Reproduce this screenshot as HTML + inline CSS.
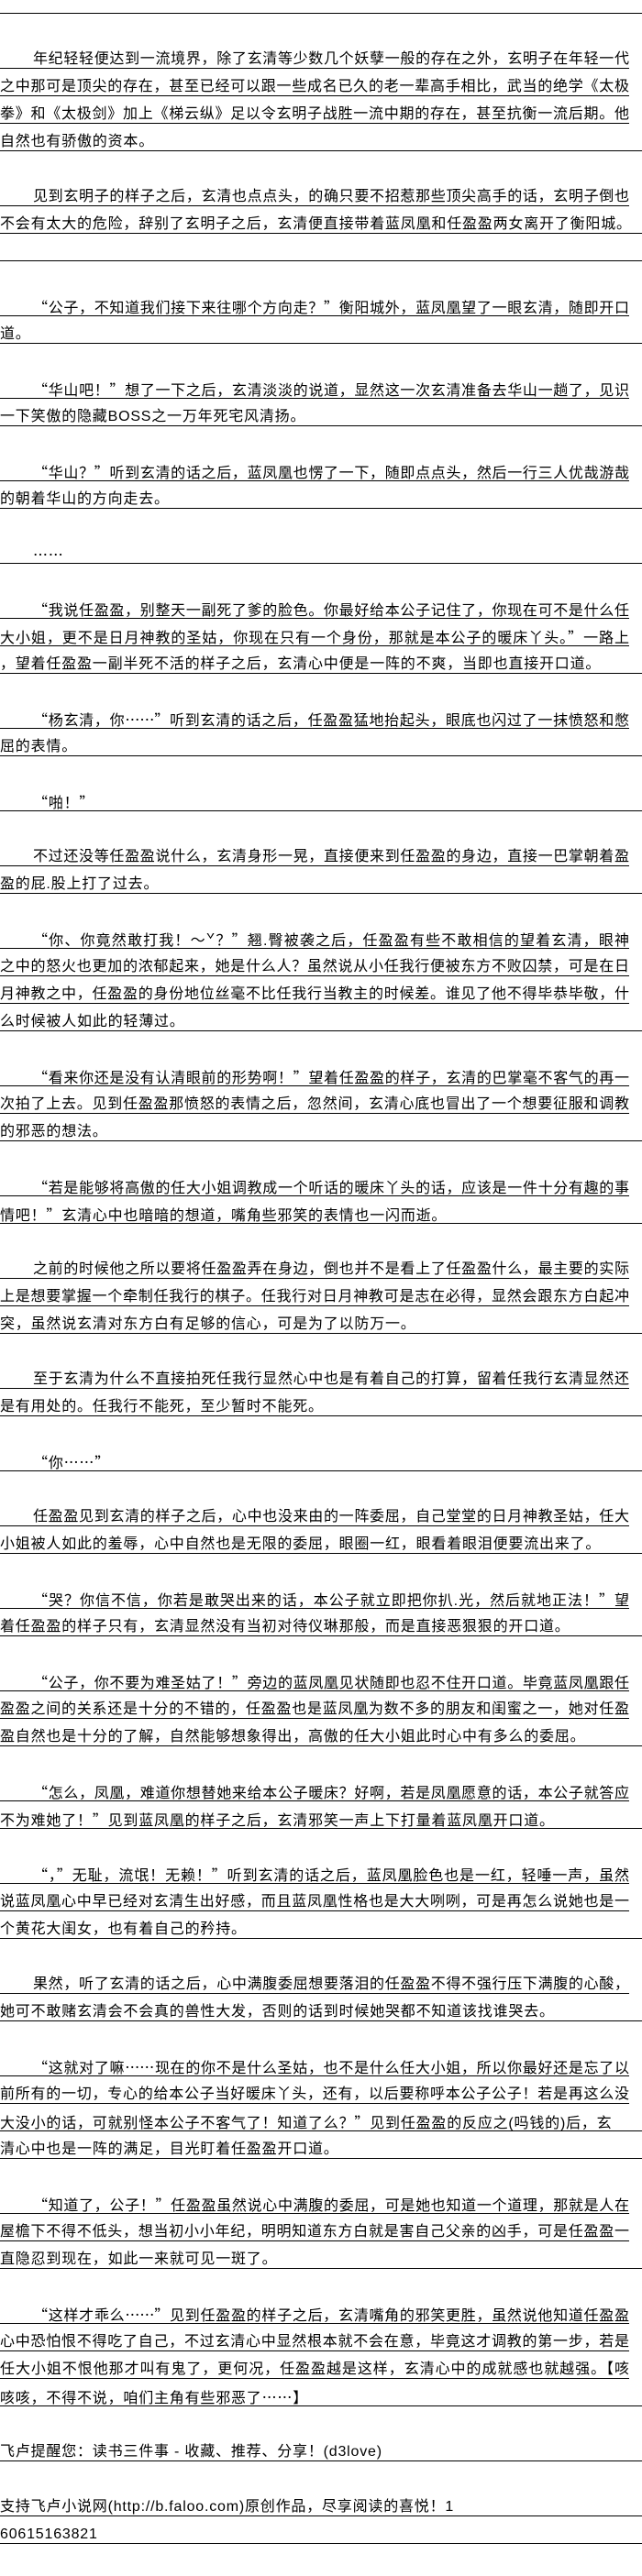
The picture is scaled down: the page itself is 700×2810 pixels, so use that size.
<!DOCTYPE html>
<html><head><meta charset="utf-8">
<style>
html,body{margin:0;padding:0;background:#fff;}
body{width:700px;height:2810px;overflow:hidden;}
#w{margin-top:-15px;}
.r{height:19px;padding-top:10px;line-height:19px;border-bottom:1px solid transparent;font-family:"Liberation Sans","Noto Sans CJK SC",sans-serif;font-size:16px;color:#000;white-space:nowrap;overflow:hidden;letter-spacing:0.8px;width:700px;box-sizing:content-box;}
.q{font-family:"Noto Sans CJK SC",sans-serif;}
.u{border-bottom-color:#000;}
.i{padding-left:36px;width:664px;}
.j{width:686px;text-align:justify;text-align-last:justify;letter-spacing:0;}
.i.j{width:650px;}
</style></head><body><div id="w">
<div class="r u"></div>
<div class="r"></div>
<div class="r u i j">年纪轻轻便达到一流境界，除了玄清等少数几个妖孽一般的存在之外，玄明子在年轻一代</div>
<div class="r u j">之中那可是顶尖的存在，甚至已经可以跟一些成名已久的老一辈高手相比，武当的绝学《太极</div>
<div class="r u j">拳》和《太极剑》加上《梯云纵》足以令玄明子战胜一流中期的存在，甚至抗衡一流后期。他</div>
<div class="r u">自然也有骄傲的资本。</div>
<div class="r"></div>
<div class="r u i j">见到玄明子的样子之后，玄清也点点头，的确只要不招惹那些顶尖高手的话，玄明子倒也</div>
<div class="r u">不会有太大的危险，辞别了玄明子之后，玄清便直接带着蓝凤凰和任盈盈两女离开了衡阳城。</div>
<div class="r u"></div>
<div class="r"></div>
<div class="r u i j"><span class="q">“</span>公子，不知道我们接下来往哪个方向走？<span class="q">”</span>衡阳城外，蓝凤凰望了一眼玄清，随即开口</div>
<div class="r u">道。</div>
<div class="r"></div>
<div class="r u i j"><span class="q">“</span>华山吧！<span class="q">”</span>想了一下之后，玄清淡淡的说道，显然这一次玄清准备去华山一趟了，见识</div>
<div class="r u">一下笑傲的隐藏BOSS之一万年死宅风清扬。</div>
<div class="r"></div>
<div class="r u i j"><span class="q">“</span>华山？<span class="q">”</span>听到玄清的话之后，蓝凤凰也愣了一下，随即点点头，然后一行三人优哉游哉</div>
<div class="r u">的朝着华山的方向走去。</div>
<div class="r"></div>
<div class="r u i"><span class="q">……</span></div>
<div class="r"></div>
<div class="r u i j"><span class="q">“</span>我说任盈盈，别整天一副死了爹的脸色。你最好给本公子记住了，你现在可不是什么任</div>
<div class="r u j">大小姐，更不是日月神教的圣姑，你现在只有一个身份，那就是本公子的暖床丫头。<span class="q">”</span>一路上</div>
<div class="r u">，望着任盈盈一副半死不活的样子之后，玄清心中便是一阵的不爽，当即也直接开口道。</div>
<div class="r"></div>
<div class="r u i j"><span class="q">“</span>杨玄清，你<span class="q">……”</span>听到玄清的话之后，任盈盈猛地抬起头，眼底也闪过了一抹愤怒和憋</div>
<div class="r u">屈的表情。</div>
<div class="r"></div>
<div class="r u i"><span class="q">“</span>啪！<span class="q">”</span></div>
<div class="r"></div>
<div class="r u i j">不过还没等任盈盈说什么，玄清身形一晃，直接便来到任盈盈的身边，直接一巴掌朝着盈</div>
<div class="r u">盈的屁.股上打了过去。</div>
<div class="r"></div>
<div class="r u i j"><span class="q">“</span>你、你竟然敢打我！<span class="q">～ˇ</span>？<span class="q">”</span>翘.臀被袭之后，任盈盈有些不敢相信的望着玄清，眼神</div>
<div class="r u j">之中的怒火也更加的浓郁起来，她是什么人？虽然说从小任我行便被东方不败囚禁，可是在日</div>
<div class="r u j">月神教之中，任盈盈的身份地位丝毫不比任我行当教主的时候差。谁见了他不得毕恭毕敬，什</div>
<div class="r u">么时候被人如此的轻薄过。</div>
<div class="r"></div>
<div class="r u i j"><span class="q">“</span>看来你还是没有认清眼前的形势啊！<span class="q">”</span>望着任盈盈的样子，玄清的巴掌毫不客气的再一</div>
<div class="r u j">次拍了上去。见到任盈盈那愤怒的表情之后，忽然间，玄清心底也冒出了一个想要征服和调教</div>
<div class="r u">的邪恶的想法。</div>
<div class="r"></div>
<div class="r u i j"><span class="q">“</span>若是能够将高傲的任大小姐调教成一个听话的暖床丫头的话，应该是一件十分有趣的事</div>
<div class="r u">情吧！<span class="q">”</span>玄清心中也暗暗的想道，嘴角些邪笑的表情也一闪而逝。</div>
<div class="r"></div>
<div class="r u i j">之前的时候他之所以要将任盈盈弄在身边，倒也并不是看上了任盈盈什么，最主要的实际</div>
<div class="r u j">上是想要掌握一个牵制任我行的棋子。任我行对日月神教可是志在必得，显然会跟东方白起冲</div>
<div class="r u">突，虽然说玄清对东方白有足够的信心，可是为了以防万一。</div>
<div class="r"></div>
<div class="r u i j">至于玄清为什么不直接拍死任我行显然心中也是有着自己的打算，留着任我行玄清显然还</div>
<div class="r u">是有用处的。任我行不能死，至少暂时不能死。</div>
<div class="r"></div>
<div class="r u i"><span class="q">“</span>你<span class="q">……”</span></div>
<div class="r"></div>
<div class="r u i j">任盈盈见到玄清的样子之后，心中也没来由的一阵委屈，自己堂堂的日月神教圣姑，任大</div>
<div class="r u">小姐被人如此的羞辱，心中自然也是无限的委屈，眼圈一红，眼看着眼泪便要流出来了。</div>
<div class="r"></div>
<div class="r u i j"><span class="q">“</span>哭？你信不信，你若是敢哭出来的话，本公子就立即把你扒.光，然后就地正法！<span class="q">”</span>望</div>
<div class="r u">着任盈盈的样子只有，玄清显然没有当初对待仪琳那般，而是直接恶狠狠的开口道。</div>
<div class="r"></div>
<div class="r u i j"><span class="q">“</span>公子，你不要为难圣姑了！<span class="q">”</span>旁边的蓝凤凰见状随即也忍不住开口道。毕竟蓝凤凰跟任</div>
<div class="r u j">盈盈之间的关系还是十分的不错的，任盈盈也是蓝凤凰为数不多的朋友和闺蜜之一，她对任盈</div>
<div class="r u">盈自然也是十分的了解，自然能够想象得出，高傲的任大小姐此时心中有多么的委屈。</div>
<div class="r"></div>
<div class="r u i j"><span class="q">“</span>怎么，凤凰，难道你想替她来给本公子暖床？好啊，若是凤凰愿意的话，本公子就答应</div>
<div class="r u">不为难她了！<span class="q">”</span>见到蓝凤凰的样子之后，玄清邪笑一声上下打量着蓝凤凰开口道。</div>
<div class="r"></div>
<div class="r u i j"><span class="q">“</span>，<span class="q">”</span>无耻，流氓！无赖！<span class="q">”</span>听到玄清的话之后，蓝凤凰脸色也是一红，轻唾一声，虽然</div>
<div class="r u j">说蓝凤凰心中早已经对玄清生出好感，而且蓝凤凰性格也是大大咧咧，可是再怎么说她也是一</div>
<div class="r u">个黄花大闺女，也有着自己的矜持。</div>
<div class="r"></div>
<div class="r u i j">果然，听了玄清的话之后，心中满腹委屈想要落泪的任盈盈不得不强行压下满腹的心酸，</div>
<div class="r u">她可不敢赌玄清会不会真的兽性大发，否则的话到时候她哭都不知道该找谁哭去。</div>
<div class="r"></div>
<div class="r u i j"><span class="q">“</span>这就对了嘛<span class="q">……</span>现在的你不是什么圣姑，也不是什么任大小姐，所以你最好还是忘了以</div>
<div class="r u j">前所有的一切，专心的给本公子当好暖床丫头，还有，以后要称呼本公子公子！若是再这么没</div>
<div class="r u">大没小的话，可就别怪本公子不客气了！知道了么？<span class="q">”</span>见到任盈盈的反应之(吗钱的)后，玄</div>
<div class="r u">清心中也是一阵的满足，目光盯着任盈盈开口道。</div>
<div class="r"></div>
<div class="r u i j"><span class="q">“</span>知道了，公子！<span class="q">”</span>任盈盈虽然说心中满腹的委屈，可是她也知道一个道理，那就是人在</div>
<div class="r u j">屋檐下不得不低头，想当初小小年纪，明明知道东方白就是害自己父亲的凶手，可是任盈盈一</div>
<div class="r u">直隐忍到现在，如此一来就可见一斑了。</div>
<div class="r"></div>
<div class="r u i j"><span class="q">“</span>这样才乖么<span class="q">……”</span>见到任盈盈的样子之后，玄清嘴角的邪笑更胜，虽然说他知道任盈盈</div>
<div class="r u j">心中恐怕恨不得吃了自己，不过玄清心中显然根本就不会在意，毕竟这才调教的第一步，若是</div>
<div class="r u j">任大小姐不恨他那才叫有鬼了，更何况，任盈盈越是这样，玄清心中的成就感也就越强。【咳</div>
<div class="r u">咳咳，不得不说，咱们主角有些邪恶了<span class="q">……</span>】</div>
<div class="r"></div>
<div class="r u">飞卢提醒您：读书三件事 - 收藏、推荐、分享！(d3love)</div>
<div class="r"></div>
<div class="r u">支持飞卢小说网(http://b.faloo.com)原创作品，尽享阅读的喜悦！1</div>
<div class="r u">60615163821</div>
<div class="r"></div>
</div></body></html>
